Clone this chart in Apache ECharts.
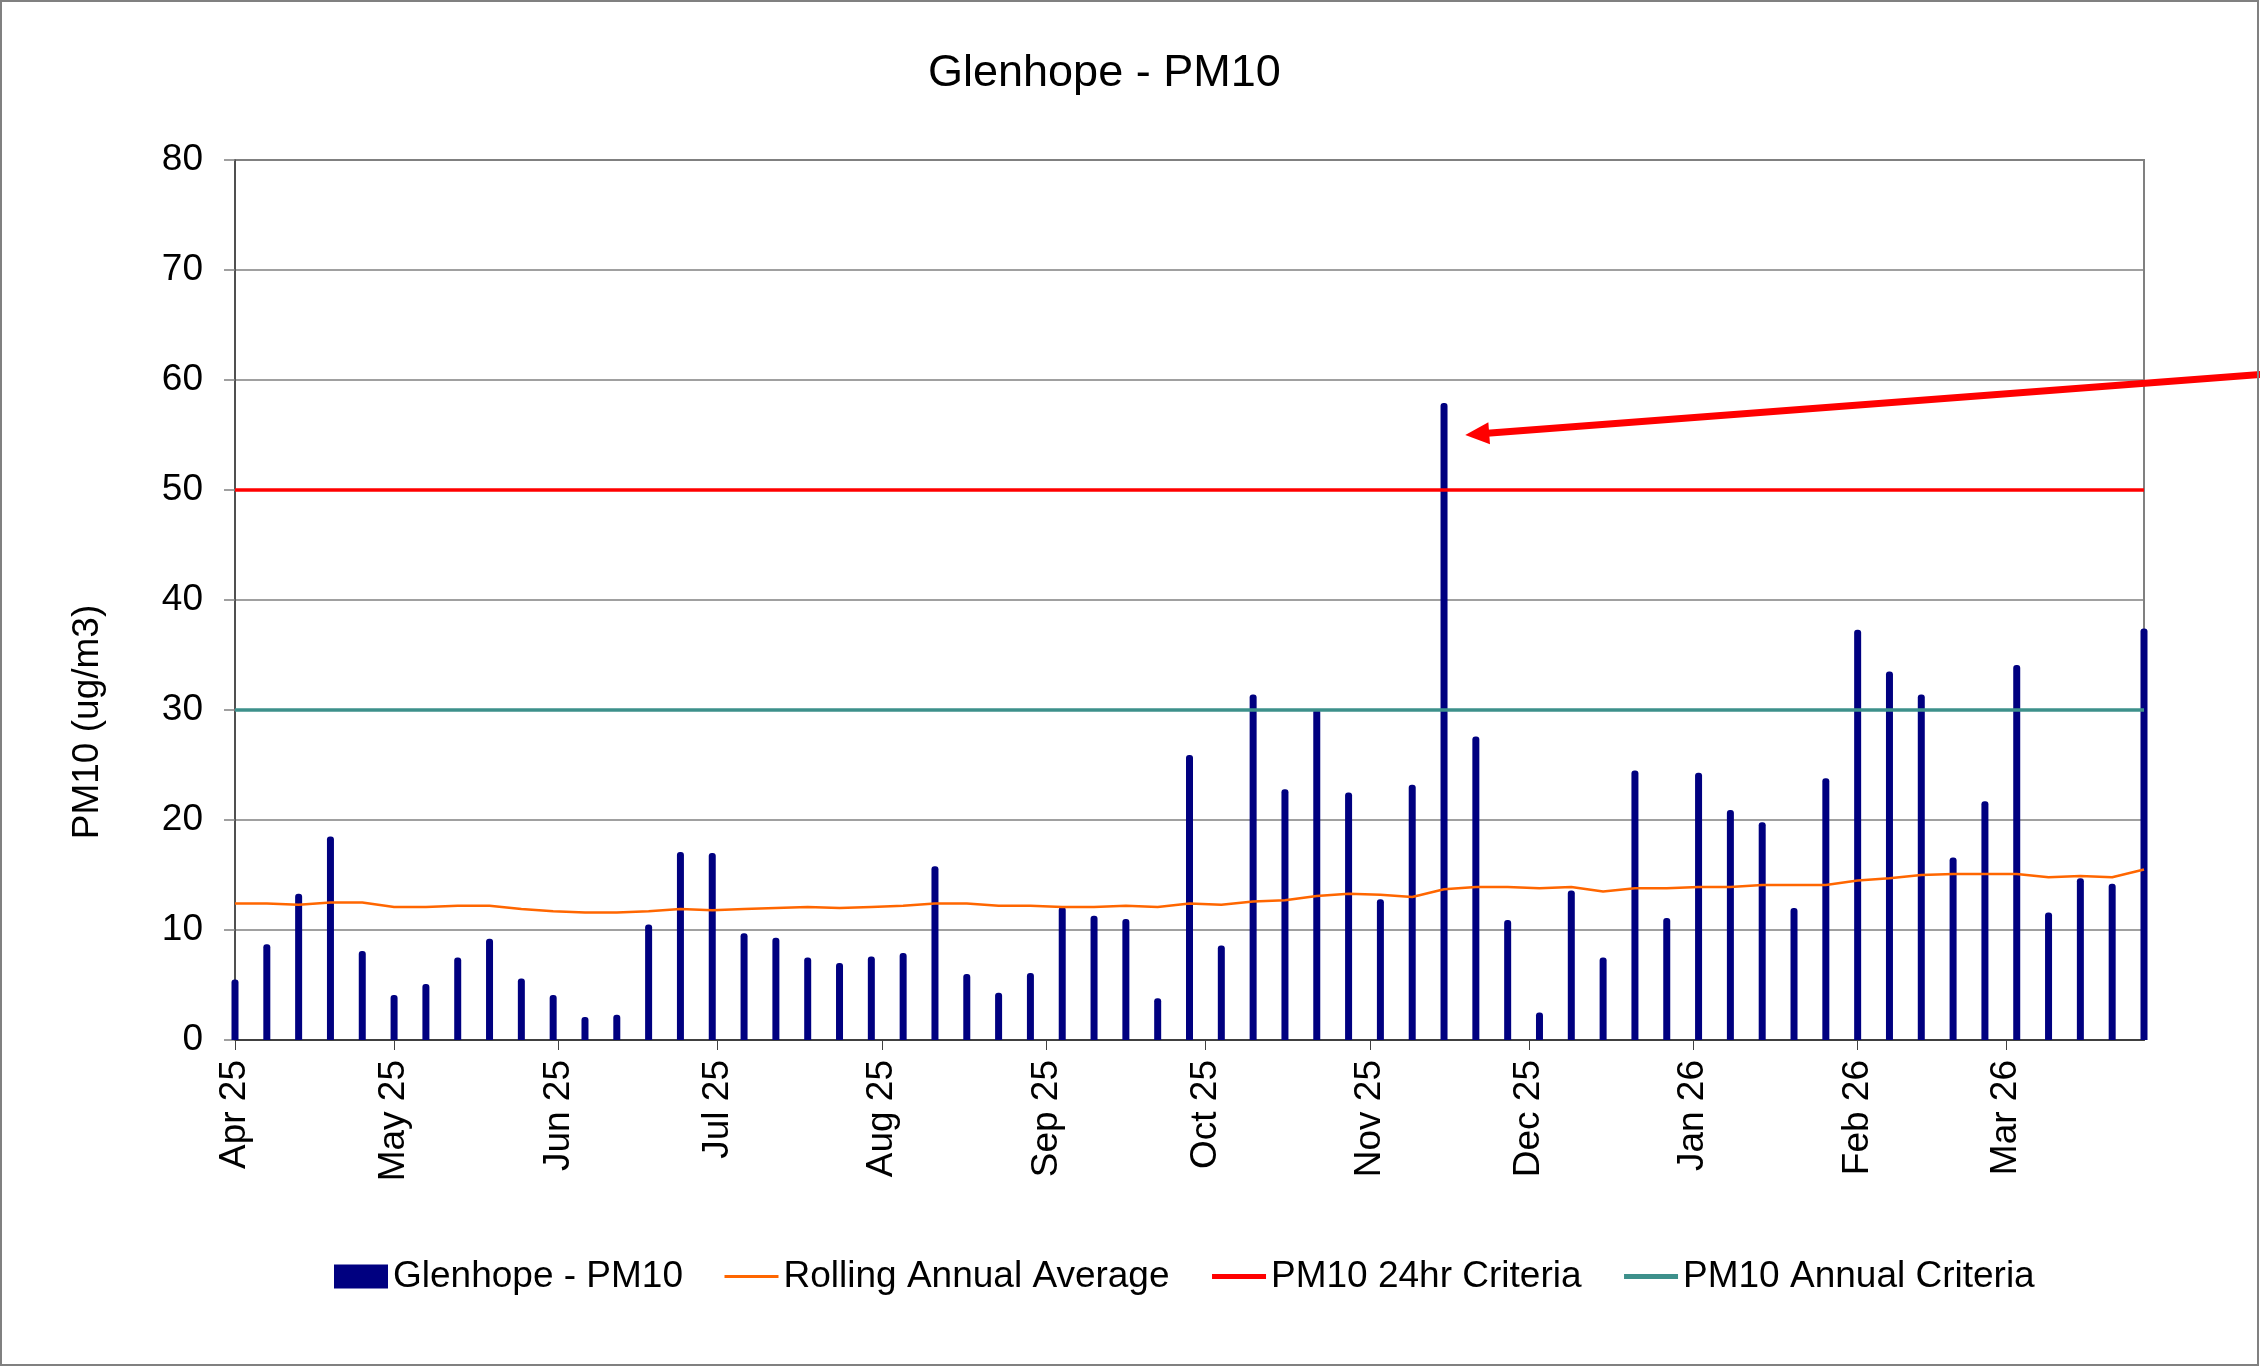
<!DOCTYPE html>
<html>
<head>
<meta charset="utf-8">
<script src="https://cdn.jsdelivr.net/npm/echarts@6/dist/echarts.min.js"></script>
<style>
html,body{margin:0;padding:0;background:#fff;}
#c{width:2260px;height:1367px;}
</style>
</head>
<body>
<div id="c"></div>
<script>
// ---- data ----
const sampleDates = [
  '2025-04-01','2025-04-07','2025-04-13','2025-04-19','2025-04-25',
  '2025-05-01','2025-05-07','2025-05-13','2025-05-19','2025-05-25','2025-05-31',
  '2025-06-06','2025-06-12','2025-06-18','2025-06-24','2025-06-30',
  '2025-07-06','2025-07-12','2025-07-18','2025-07-24','2025-07-30',
  '2025-08-05','2025-08-11','2025-08-17','2025-08-23','2025-08-29',
  '2025-09-04','2025-09-10','2025-09-16','2025-09-22','2025-09-28',
  '2025-10-04','2025-10-10','2025-10-16','2025-10-22','2025-10-28',
  '2025-11-03','2025-11-09','2025-11-15','2025-11-21','2025-11-27',
  '2025-12-03','2025-12-09','2025-12-15','2025-12-21','2025-12-27',
  '2026-01-02','2026-01-08','2026-01-14','2026-01-20','2026-01-26',
  '2026-02-01','2026-02-07','2026-02-13','2026-02-19','2026-02-25',
  '2026-03-03','2026-03-09','2026-03-15','2026-03-21','2026-03-27'
];
const pm10Values = [
  5.5, 8.7, 13.3, 18.5, 8.1,
  4.1, 5.1, 7.5, 9.2, 5.6, 4.1,
  2.1, 2.3, 10.5, 17.1, 17.0,
  9.7, 9.3, 7.5, 7.0, 7.6,
  7.9, 15.8, 6.0, 4.3, 6.1,
  12.1, 11.3, 11.0, 3.8, 25.9,
  8.6, 31.4, 22.8, 30.1, 22.5,
  12.8, 23.2, 57.9, 27.6, 10.9,
  2.5, 13.6, 7.5, 24.5, 11.1,
  24.3, 20.9, 19.8, 12.0, 23.8,
  37.3, 33.5, 31.4, 16.6, 21.7,
  34.1, 11.6, 14.7, 14.2, 37.4
];
const rollingAverage = [
  12.4, 12.4, 12.3, 12.5, 12.5,
  12.1, 12.1, 12.2, 12.2, 11.9, 11.7,
  11.6, 11.6, 11.7, 11.9, 11.8,
  11.9, 12.0, 12.1, 12.0, 12.1,
  12.2, 12.4, 12.4, 12.2, 12.2,
  12.1, 12.1, 12.2, 12.1, 12.4,
  12.3, 12.6, 12.7, 13.1, 13.3,
  13.2, 13.0, 13.7, 13.9, 13.9,
  13.8, 13.9, 13.5, 13.8, 13.8,
  13.9, 13.9, 14.1, 14.1, 14.1,
  14.5, 14.7, 15.0, 15.1, 15.1,
  15.1, 14.8, 14.9, 14.8, 15.5
];
const criteria24hr = 50;
const criteriaAnnual = 30;
const axisStart = '2025-04-01';
const axisEnd = '2026-03-27';
const monthTicks = [
  '2025-04-01','2025-05-01','2025-06-01','2025-07-01','2025-08-01','2025-09-01',
  '2025-10-01','2025-11-01','2025-12-01','2026-01-01','2026-02-01','2026-03-01'
];
const monthNames = ['Jan','Feb','Mar','Apr','May','Jun','Jul','Aug','Sep','Oct','Nov','Dec'];
const yMin = 0, yMax = 80, yStep = 10;
const seriesNames = ['Glenhope - PM10','Rolling Annual Average','PM10 24hr Criteria','PM10 Annual Criteria'];
// annotation arrow (data coordinates: tip near the exceedance, tail off to the right)
const arrowTip = ['2025-11-19', 55];
const arrowTail = ['2026-04-18', 60.5];

// ---- build ----
const FONT = '"Liberation Sans", Arial, sans-serif';
const t = s => Date.parse(s);
const tickVals = monthTicks.map(t);
function fmtMonth(v) {
  const d = new Date(v);
  return monthNames[d.getUTCMonth()] + ' ' + String(d.getUTCFullYear()).slice(2);
}

const chart = echarts.init(document.getElementById('c'), null, {renderer: 'canvas'});

const hiddenSymbol = {opacity: 0, borderWidth: 0};
const option = {
  animation: false,
  backgroundColor: '#fff',
  textStyle: {fontFamily: FONT},
  title: {
    text: 'Glenhope - PM10',
    left: 928, top: 51, padding: 0,
    textStyle: {fontSize: 45, fontWeight: 'normal', color: '#000', fontFamily: FONT}
  },
  legend: {
    left: 334, top: 1258, padding: 0,
    itemWidth: 54, itemHeight: 24, itemGap: 40,
    textStyle: {fontSize: 37, color: '#000', fontFamily: FONT},
    data: [
      {name: seriesNames[0], icon: 'rect'},
      {name: seriesNames[1], itemStyle: hiddenSymbol, lineStyle: {width: 3}},
      {name: seriesNames[2], itemStyle: hiddenSymbol, lineStyle: {width: 5}},
      {name: seriesNames[3], itemStyle: hiddenSymbol, lineStyle: {width: 5}}
    ]
  },
  grid: {
    left: 235, right: 116, top: 160, bottom: 327,
    show: true, borderColor: '#808080', borderWidth: 2, backgroundColor: '#fff'
  },
  xAxis: {
    type: 'value',
    min: t(axisStart), max: t(axisEnd),
    axisLine: {show: true, onZero: false, lineStyle: {color: '#404040', width: 2}},
    axisTick: {show: true, length: 10, customValues: tickVals, lineStyle: {color: '#404040', width: 1}},
    axisLabel: {rotate: 90, fontSize: 37, color: '#000', margin: 20, customValues: tickVals, formatter: fmtMonth, fontFamily: FONT},
    splitLine: {show: false}
  },
  yAxis: {
    type: 'value', min: yMin, max: yMax, interval: yStep,
    axisLine: {show: true, lineStyle: {color: '#404040', width: 1.5}},
    axisTick: {show: true, length: 11, lineStyle: {color: '#808080', width: 1.5}},
    axisLabel: {fontSize: 37, color: '#000', margin: 32, fontFamily: FONT},
    splitLine: {show: true, lineStyle: {color: '#808080', width: 1.5}}
  },
  series: [
    {
      name: seriesNames[0], type: 'bar', barWidth: 7,
      itemStyle: {color: '#000080', borderRadius: [3, 3, 0, 0]},
      data: sampleDates.map((d, i) => [t(d), pm10Values[i]]),
      z: 2
    },
    {
      name: seriesNames[1], type: 'line', symbol: 'none',
      lineStyle: {color: '#ff6600', width: 2.5}, itemStyle: {color: '#ff6600'},
      data: sampleDates.map((d, i) => [t(d), rollingAverage[i]]),
      z: 3
    },
    {
      name: seriesNames[2], type: 'line', symbol: 'none',
      lineStyle: {color: '#ff0000', width: 3.5}, itemStyle: {color: '#ff0000'},
      data: [[t(axisStart), criteria24hr], [t(axisEnd), criteria24hr]],
      z: 3
    },
    {
      name: seriesNames[3], type: 'line', symbol: 'none',
      lineStyle: {color: '#3d908b', width: 3.5}, itemStyle: {color: '#3d908b'},
      data: [[t(axisStart), criteriaAnnual], [t(axisEnd), criteriaAnnual]],
      z: 3
    }
  ]
};
chart.setOption(option);

// y-axis title and annotation arrow (positions derived from the chart's own scales)
const tip = chart.convertToPixel({gridIndex: 0}, [t(arrowTip[0]), arrowTip[1]]);
const tail = chart.convertToPixel({gridIndex: 0}, [t(arrowTail[0]), arrowTail[1]]);
const dx = tip[0] - tail[0], dy = tip[1] - tail[1];
const len = Math.sqrt(dx * dx + dy * dy);
const ux = dx / len, uy = dy / len, nx = -uy, ny = ux;
const headLen = 24, headHalf = 11;
const bx = tip[0] - ux * headLen, by = tip[1] - uy * headLen;

chart.setOption({
  graphic: [
    {
      type: 'rect', silent: true, z: 100,
      shape: {x: 1, y: 1, width: 2257, height: 1364},
      style: {fill: 'none', stroke: '#808080', lineWidth: 2}
    },
    {
      type: 'text', x: 88, y: 722, rotation: Math.PI / 2, silent: true,
      style: {text: 'PM10 (ug/m3)', fontSize: 37, fontFamily: FONT, fill: '#000', align: 'center', verticalAlign: 'middle'}
    },
    {
      type: 'line', silent: true, z: 50,
      shape: {x1: tail[0], y1: tail[1], x2: bx + ux * 2, y2: by + uy * 2},
      style: {stroke: '#ff0000', lineWidth: 7}
    },
    {
      type: 'polygon', silent: true, z: 50,
      shape: {points: [[tip[0], tip[1]], [bx + nx * headHalf, by + ny * headHalf], [bx - nx * headHalf, by - ny * headHalf]]},
      style: {fill: '#ff0000'}
    }
  ]
});
</script>
</body>
</html>
